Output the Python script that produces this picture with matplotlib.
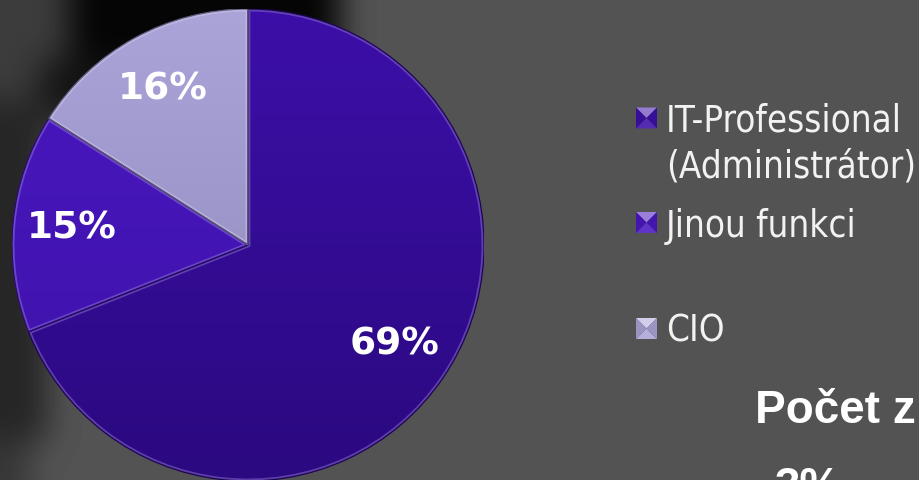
import numpy as np
import matplotlib.pyplot as plt
from matplotlib.patches import Wedge, Polygon

shares = [69, 15, 16]
groups = ['IT-Professional\n(Administrátor)', 'Jinou funkci', 'CIO']
top_colors = ['#3c0fa8', '#4a17c2', '#aba4d9']
bottom_colors = ['#2b0980', '#3d12a6', '#8d86b8']
title_text = 'Počet z'
next_pct = '3%'

W, H = 920, 480


def mix(c, other, t):
    c = np.array(plt.matplotlib.colors.to_rgb(c))
    o = np.array(plt.matplotlib.colors.to_rgb(other))
    return tuple(c * (1 - t) + o * t)


def blur(img, r, passes=3):
    k = np.ones(2 * r + 1) / (2 * r + 1)
    f = lambda v: np.convolve(np.pad(v, r, mode='edge'), k, 'valid')
    for _ in range(passes):
        img = np.apply_along_axis(f, 0, img)
        img = np.apply_along_axis(f, 1, img)
    return img


fig = plt.figure(figsize=(W / 100, H / 100), dpi=100)

# dark gray slide background with a soft shadow top-left
bg = np.full((H + 60, W), 83.0)
bg[0:130, 0:70] = 60
bg[0:90, 70:340] = 5
bg[90:150, 40:340] = 20
bg[130:470, 0:48] = 38
bg[470:, 0:30] = 55
bg = blur(bg, 15)[30:H + 30]
bg_ax = fig.add_axes([0, 0, 1, 1])
bg_ax.imshow(bg, cmap='gray', vmin=0, vmax=255, extent=(0, W, H, 0), aspect='auto')
bg_ax.set_xlim(0, W)
bg_ax.set_ylim(H, 0)
bg_ax.axis('off')

# pie
ax = fig.add_axes([12 / W, -1 / H, 472 / W, 472 / H])
wedges, texts, autotexts = ax.pie(
    shares, startangle=90, counterclock=False, autopct='%d%%',
    pctdistance=0.75, colors=top_colors,
    wedgeprops=dict(linewidth=0),
    textprops=dict(color='white', fontsize=27, fontweight='bold',
                   family='DejaVu Sans'))

for w, c_top, c_bot in zip(wedges, top_colors, bottom_colors):
    t = np.linspace(0, 1, 256)[:, None, None]
    grad = np.array(plt.matplotlib.colors.to_rgb(c_top))[None, None, :] * (1 - t) + \
        np.array(plt.matplotlib.colors.to_rgb(c_bot))[None, None, :] * t
    im = ax.imshow(grad, extent=(-1, 1, -1, 1), aspect='auto', zorder=1.5)
    im.set_clip_path(w)
    # bevel highlight along the slice border
    rim = Wedge(w.center, w.r, w.theta1, w.theta2, fill=False,
                edgecolor=mix(c_top, 'white', 0.35), linewidth=3.5, alpha=0.6,
                zorder=1.8)
    ax.add_patch(rim)
    rim.set_clip_path(w)
    edge = Wedge(w.center, w.r, w.theta1, w.theta2, fill=False,
                 edgecolor=mix(c_bot, 'black', 0.35), linewidth=0.9, zorder=1.9)
    ax.add_patch(edge)

ax.set_xlim(-1, 1)
ax.set_ylim(-1, 1)
ax.set_aspect('equal')
ax.axis('off')

# legend drawn by hand
marker_mid = [118, 222.5, 328.5]
line_base = [[132, 177], [237], [342]]
for lab, col, cy, bases in zip(groups, top_colors, marker_mid, line_base):
    x0, x1 = 636, 657
    y0, y1 = cy - 10.5, cy + 10.5
    cx = (x0 + x1) / 2
    pts = {'tl': (x0, y0), 'tr': (x1, y0), 'bl': (x0, y1), 'br': (x1, y1), 'c': (cx, cy)}
    tris = [(('tl', 'tr', 'c'), mix(col, 'white', 0.45)),
            (('bl', 'br', 'c'), mix(col, 'white', 0.12)),
            (('tl', 'bl', 'c'), mix(col, 'black', 0.1)),
            (('tr', 'br', 'c'), mix(col, 'black', 0.1))]
    for keys, fc in tris:
        xy = [(pts[k][0] / W, 1 - pts[k][1] / H) for k in keys]
        fig.add_artist(Polygon(xy, closed=True, facecolor=fc, edgecolor='none',
                               transform=fig.transFigure))
    for line, b in zip(lab.split('\n'), bases):
        fig.text(666 / W, 1 - b / H, line, color='#f2f2f2', fontsize=26.3,
                 family='DejaVu Sans', fontstretch='condensed', va='baseline')

fig.text(755 / W, 1 - 423 / H, title_text, color='white', fontsize=33,
         fontweight='bold', family='Liberation Sans', va='baseline')
fig.text(775 / W, 1 - 500 / H, next_pct, color='white', fontsize=33,
         fontweight='bold', family='Liberation Sans', va='baseline')

fig.savefig('out.png', dpi=100)
